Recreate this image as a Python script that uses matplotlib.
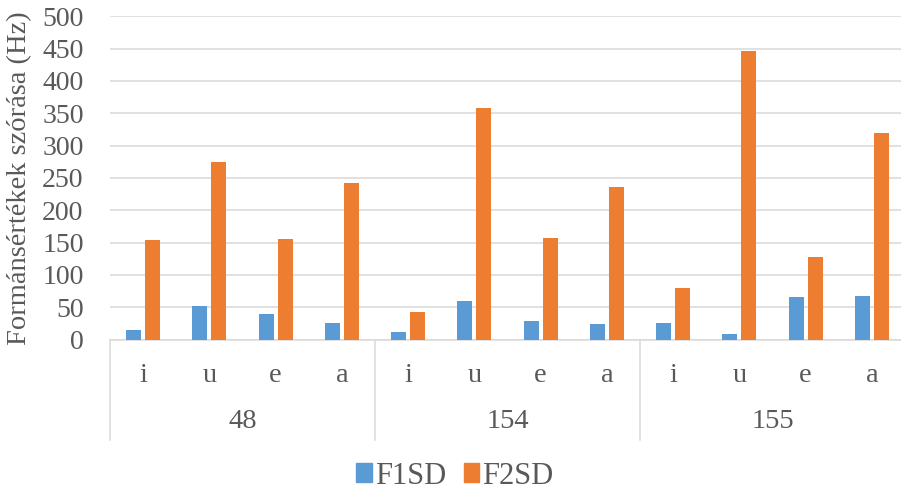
import matplotlib.pyplot as plt
import numpy as np

plt.rcParams['font.family'] = ['Liberation Serif', 'DejaVu Serif']

# ---- data ----
speakers = ['48', '154', '155']
vowels = ['i', 'u', 'e', 'a']
f1sd = [15, 52, 40, 25,
        12, 59, 28, 24,
        25, 9, 65, 67]
f2sd = [154, 274, 155, 242,
        42, 358, 157, 236,
        79, 447, 127, 319]

blue = '#5B9BD5'
orange = '#ED7D31'
grid_c = '#D9D9D9'
text_c = '#595959'

fig = plt.figure(figsize=(9.01, 4.92), dpi=100)
ax = fig.add_axes([110 / 901, 1 - 339.5 / 492, 795 / 901, 323.2 / 492])

n = len(f1sd)
x = np.arange(n)
w = 0.226
off = 0.145
ax.bar(x - off, f1sd, w, color=blue, zorder=3)
ax.bar(x + off, f2sd, w, color=orange, zorder=3)

ax.set_xlim(-0.5, n - 0.5)
ax.set_ylim(0, 500)
ax.set_yticks(np.arange(0, 501, 50))
ax.yaxis.grid(True, color=grid_c, linewidth=1.1, zorder=0)
ax.tick_params(axis='y', length=0, pad=19, labelsize=20, labelcolor=text_c)
ax.tick_params(axis='x', length=0, labelbottom=False)
for s in ['top', 'right', 'left']:
    ax.spines[s].set_visible(False)
ax.spines['bottom'].set_color(grid_c)
ax.spines['bottom'].set_linewidth(1.1)

ax.set_ylabel('Formánsértékek szórása (Hz)', fontsize=20.5, color=text_c, labelpad=7)

# mehrstufige Kategorieachse: Vokale + Sprecher
tr = ax.get_xaxis_transform()
for i in range(n):
    ax.text(x[i], -0.11, vowels[i % 4], transform=tr, ha='center', va='center',
            fontsize=20.5, color=text_c)
for g, name in enumerate(speakers):
    ax.text(g * 4 + 1.5, -0.255, name, transform=tr, ha='center', va='center',
            fontsize=20.5, color=text_c)
for b in [-0.5, 3.5, 7.5, 11.5]:
    ax.plot([b, b], [0, -0.311], transform=tr, color=grid_c, linewidth=1.1, clip_on=False)

leg = fig.legend(handles=[plt.Rectangle((0, 0), 1, 1, color=blue),
                          plt.Rectangle((0, 0), 1, 1, color=orange)],
                 labels=['F1SD', 'F2SD'], loc='center', bbox_to_anchor=(455 / 901, 1 - 476 / 492),
                 ncol=2, frameon=False, fontsize=22, handlelength=0.5, handleheight=0.6,
                 handletextpad=0.1, columnspacing=0.6)
for t in leg.get_texts():
    t.set_color(text_c)

fig.savefig('out.png', dpi=100)
